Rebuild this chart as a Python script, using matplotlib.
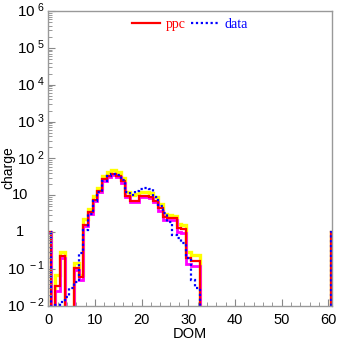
import numpy as np
import matplotlib
matplotlib.use("Agg")
import matplotlib.pyplot as plt
from matplotlib.ticker import LogLocator, MultipleLocator, NullFormatter

plt.rcParams["font.family"] = ["Liberation Sans", "DejaVu Sans"]
plt.rcParams["mathtext.fontset"] = "custom"
plt.rcParams["mathtext.rm"] = "Liberation Sans"

# charge per DOM number (bins centred on integers)
dom = np.arange(62)

ppc = [1.0, 0, 0.034, 0.23, 0, 0, 0.11, 0.06, 1.6, 3.5,
       7.6, 13, 27, 33, 39, 34, 24, 9.5, 7.0, 7.0,
       9.6, 9.4, 9.2, 7.2, 4.6, 2.6, 2.5, 2.4, 1.3, 1.25,
       0.2, 0.17, 0.17] + [0] * 28 + [1.0]

ppc_hi = [1.0, 0, 0.07, 0.29, 0, 0, 0.15, 0.07, 2.3, 4.3,
          9.5, 16, 33, 42, 50, 42, 30, 12, 10, 11,
          12, 12, 11.5, 9, 6, 3.2, 3.0, 2.8, 1.7, 1.6,
          0.3, 0.24, 0.24] + [0] * 28 + [1.0]

ppc_lo = [1.0, 0, 0.026, 0.2, 0, 0, 0.094, 0.05, 1.5, 3.2,
          7.0, 12, 25, 31, 36, 32, 22, 8.8, 6.8, 6.8,
          9.0, 8.8, 8.6, 6.5, 3.8, 2.2, 2.1, 2.1, 1.0, 0.95,
          0.14, 0.12, 0.12] + [0] * 28 + [1.0]

data = [1.0, 0, 0.0105, 0.013, 0.018, 0.03, 0.045, 0.27, 1.15, 3.2,
        7.0, 12, 25, 34, 39, 36, 26, 12.5, 10.5, 13,
        15, 15.5, 15, 8.8, 5.0, 3.4, 1.9, 0.85, 0.7, 0.5,
        0.2, 0.05, 0.03] + [0] * 28 + [1.0]

edges = np.append(dom - 0.5, dom[-1] + 0.5)

yt = [1e-2, 1e-1, 1, 10, 1e2, 1e3, 1e4, 1e5, 1e6]
ylab = [r"$\mathregular{10^{\ -2}}$", r"$\mathregular{10^{\ -1}}$", "1", "10",
        r"$\mathregular{10^{\ 2}}$", r"$\mathregular{10^{\ 3}}$", r"$\mathregular{10^{\ 4}}$",
        r"$\mathregular{10^{\ 5}}$", r"$\mathregular{10^{\ 6}}$"]


def clip(v):
    # empty bins fall below the log axis
    return np.clip(np.asarray(v, dtype=float), 1e-4, None)


fig = plt.figure(figsize=(3.37, 3.44), dpi=100)
ax = fig.add_axes([0.1424, 0.1105, 0.8427, 0.8576])

ax.stairs(clip(ppc_hi), edges, baseline=None, color="#ffff00", lw=2.4)
ax.stairs(clip(ppc_lo), edges, baseline=None, color="#ff00ff", lw=2.0)
ax.stairs(clip(ppc), edges, baseline=None, color="#ff0000", lw=1.6, label="ppc")
ax.stairs(clip(data), edges, baseline=None, color="#0000ff", lw=1.6,
          linestyle=(0, (1, 1.2)), label="data")

ax.set_yscale("log")
ax.set_ylim(1e-2, 1e6)
ax.set_xlim(-0.05, 60.8)

ax.set_yticks(yt)
ax.yaxis.set_minor_locator(LogLocator(base=10, subs=np.arange(2, 10), numticks=20))
ax.yaxis.set_minor_formatter(NullFormatter())

ax.xaxis.set_major_locator(MultipleLocator(10))
ax.xaxis.set_minor_locator(MultipleLocator(2))

ax.tick_params(which="both", direction="in", colors="#888888", labelcolor="black",
               labelsize=10.5, top=False, right=False, labelleft=False)
ax.tick_params(which="major", length=5, width=0.8)
ax.tick_params(which="minor", length=3, width=0.6)
ax.tick_params(axis="x", pad=5)
for s in ax.spines.values():
    s.set_color("#999999")
    s.set_linewidth(1.0)

# y labels: powers right-aligned next to the axis, plain 1 and 10 further left
ytr = ax.get_yaxis_transform()
for v, s in zip(yt, ylab):
    if s.startswith("$"):
        ax.text(-0.01, v, s, transform=ytr, ha="right", va="center", fontsize=11)
    else:
        ax.text(-0.099, v, s, transform=ytr, ha="center", va="center", fontsize=10.5)

ax.set_xlabel("DOM", fontsize=10.5, labelpad=0)
fig.text(0.024, 0.512, "charge", rotation=90, ha="center", va="center", fontsize=10)

leg = ax.legend(loc="upper center", bbox_to_anchor=(0.5, 1.02), ncol=2, frameon=False,
                handlelength=2.0, handletextpad=0.4, columnspacing=0.4,
                prop={"family": "Liberation Serif", "size": 10})
for txt, c in zip(leg.get_texts(), ["#ff0000", "#0000ff"]):
    txt.set_color(c)

fig.savefig("out.png", dpi=100)
